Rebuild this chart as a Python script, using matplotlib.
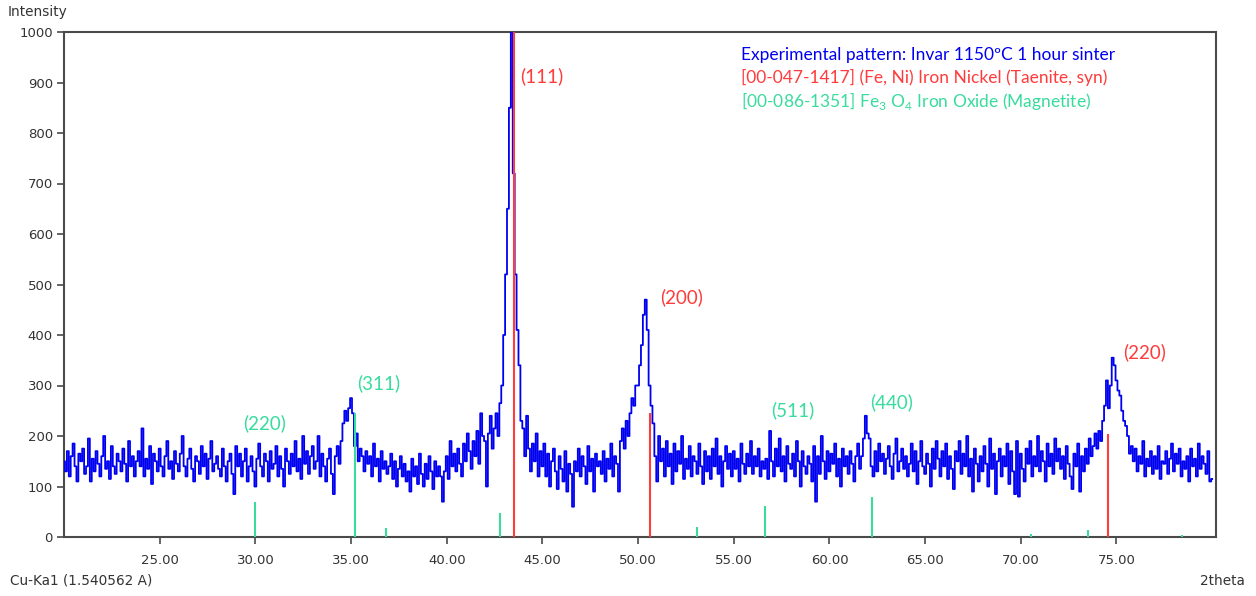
import numpy as np
import matplotlib
matplotlib.use("Agg")
import matplotlib.pyplot as plt

# ---------------- data ----------------
two_theta_start = 20.0
two_theta_step = 0.1
intensity = [
    # 20
    150, 130, 170, 120, 160, 185, 140, 110, 165, 150,
    # 21
    175, 125, 140, 195, 110, 155, 130, 170, 145, 120,
    # 22
    160, 200, 135, 150, 115, 180, 140, 125, 165, 150,
    # 23
    130, 175, 145, 110, 190, 140, 160, 120, 150, 170,
    # 24
    140, 215, 120, 155, 135, 180, 105, 165, 150, 130,
    # 25
    175, 140, 120, 160, 190, 135, 150, 115, 170, 145,
    # 26
    130, 165, 200, 140, 120, 155, 175, 135, 110, 160,
    # 27
    150, 125, 180, 140, 165, 115, 155, 190, 130, 145,
    # 28
    160, 135, 120, 175, 140, 110, 150, 165, 125, 85,
    # 29
    180, 140, 165, 120, 150, 175, 110, 140, 160, 130,
    # 30
    100, 155, 185, 140, 120, 165, 150, 110, 170, 135,
    # 31
    145, 180, 120, 160, 135, 100, 175, 150, 125, 165,
    # 32
    140, 190, 130, 155, 115, 200, 145, 170, 125, 160,
    # 33
    180, 135, 150, 200, 120, 165, 140, 110, 155, 175,
    # 34
    125, 85, 160, 180, 145, 190, 225, 250, 230, 255,
    # 35
    275, 245, 180, 205, 150, 175, 160, 130, 170, 145,
    # 36
    160, 120, 185, 140, 155, 110, 170, 135, 150, 125,
    # 37
    140, 165, 115, 150, 100, 135, 160, 120, 145, 110,
    # 38
    130, 90, 155, 120, 140, 105, 165, 125, 100, 145,
    # 39
    115, 160, 130, 95, 150, 120, 140, 120, 70, 130,
    # 40
    160, 115, 190, 140, 165, 130, 175, 145, 120, 185,
    # 41
    150, 205, 170, 135, 190, 160, 210, 145, 245, 200,
    # 42
    190, 100, 205, 240, 175, 215, 245, 200, 265, 300,
    # 43
    400, 520, 650, 850, 1050, 720, 520, 410, 340, 230,
    # 44
    215, 160, 240, 175, 130, 185, 150, 205, 120, 170,
    # 45
    140, 185, 120, 165, 100, 150, 175, 130, 95, 160,
    # 46
    135, 110, 170, 90, 145, 125, 60, 150, 130, 175,
    # 47
    120, 160, 140, 105, 180, 130, 155, 90, 165, 140,
    # 48
    150, 125, 170, 110, 155, 135, 185, 120, 160, 145,
    # 49
    90, 190, 215, 175, 230, 200, 245, 275, 260, 300,
    # 50
    300, 340, 380, 440, 470, 410, 300, 260, 225, 160,
    # 51
    110, 200, 150, 175, 120, 190, 140, 165, 105, 185,
    # 52
    130, 170, 145, 200, 115, 155, 135, 180, 120, 160,
    # 53
    150, 125, 185, 140, 105, 170, 130, 160, 115, 175,
    # 54
    140, 195, 125, 160, 100, 150, 180, 135, 165, 120,
    # 55
    170, 135, 155, 110, 185, 145, 125, 165, 140, 190,
    # 56
    125, 160, 140, 175, 120, 150, 135, 155, 115, 210,
    # 57
    150, 120, 175, 140, 195, 130, 160, 110, 180, 145,
    # 58
    135, 165, 120, 190, 150, 100, 170, 140, 125, 160,
    # 59
    145, 110, 180, 70, 160, 125, 200, 150, 115, 170,
    # 60
    130, 165, 145, 185, 120, 155, 100, 175, 140, 160,
    # 61
    125, 170, 145, 110, 160, 185, 135, 160, 195, 240,
    # 62
    205, 195, 140, 120, 170, 130, 185, 150, 165, 125,
    # 63
    155, 180, 140, 115, 165, 195, 130, 150, 175, 135,
    # 64
    160, 120, 145, 185, 130, 170, 105, 150, 190, 140,
    # 65
    125, 165, 145, 100, 175, 135, 190, 155, 120, 170,
    # 66
    140, 185, 115, 160, 135, 95, 170, 150, 190, 125,
    # 67
    165, 140, 200, 120, 155, 90, 175, 145, 110, 160,
    # 68
    130, 180, 145, 100, 195, 135, 165, 85, 150, 175,
    # 69
    120, 160, 140, 185, 105, 170, 130, 85, 190, 80,
    # 70
    165, 135, 110, 175, 145, 190, 120, 160, 140, 200,
    # 71
    130, 170, 150, 110, 185, 140, 165, 125, 195, 150,
    # 72
    175, 135, 160, 115, 180, 145, 120, 95, 165, 140,
    # 73
    185, 90, 160, 130, 175, 145, 195, 160, 180, 205,
    # 74
    175, 210, 190, 230, 260, 310, 255, 300, 355, 340,
    # 75
    310, 290, 280, 250, 230, 220, 200, 165, 180, 150,
    # 76
    175, 130, 160, 145, 190, 120, 155, 140, 170, 125,
    # 77
    160, 135, 180, 115, 150, 145, 170, 125, 155, 185,
    # 78
    130, 165, 145, 175, 120, 150, 135, 160, 110, 175,
    # 79
    140, 155, 120, 185, 135, 160, 145, 125, 170, 110,
    # 80
    115,
]

taenite_pos = [43.5, 50.6, 74.55]
taenite_int = [1000, 245, 204]
taenite_hkl = ["(111)", "(200)", "(220)"]
taenite_label_xy = [(43.85, 913), (51.15, 475), (75.37, 366)]

magnetite_pos = [30.0, 35.2, 36.85, 42.8, 53.1, 56.65, 62.2, 70.55, 73.5, 78.4]
magnetite_int = [70, 245, 17, 48, 20, 62, 80, 6, 14, 3]
magnetite_hkl = ["(220)", "(311)", "(511)", "(440)"]
magnetite_label_xy = [(29.35, 226), (35.31, 305), (56.94, 251), (62.15, 267)]

x_ticks = [25, 30, 35, 40, 45, 50, 55, 60, 65, 70, 75]
y_ticks = [0, 100, 200, 300, 400, 500, 600, 700, 800, 900, 1000]

legend_lines = [
    "Experimental pattern: Invar 1150\u00baC 1 hour sinter",
    "[00-047-1417] (Fe, Ni) Iron Nickel (Taenite, syn)",
    "[00-086-1351] Fe$_\\mathregular{3}$ O$_\\mathregular{4}$ Iron Oxide (Magnetite)",
]

# ---------------- style ----------------
BLUE = "#0000f0"
RED = "#ff3b3b"
GREEN = "#38dc9c"
AXC = "#4a4a4a"
TXT = "#333333"

plt.rcParams["mathtext.fontset"] = "custom"
plt.rcParams["mathtext.rm"] = "Lato"

W, H = 1256, 596
fig = plt.figure(figsize=(W / 100, H / 100), dpi=100)
L, R, T, B = 64, 1216, 32, 537
ax = fig.add_axes([L / W, 1 - B / H, (R - L) / W, (B - T) / H])

x = two_theta_start + two_theta_step * np.arange(len(intensity))
y = np.array(intensity, dtype=float)

ax.plot(x, y, color=BLUE, lw=1.3, drawstyle="steps-mid", zorder=3)

ax.vlines(magnetite_pos, 0, magnetite_int, color=GREEN, lw=1.5, zorder=4)
ax.vlines(taenite_pos, 0, taenite_int, color=RED, lw=1.5, zorder=4)

lab_font = dict(family="Lato", fontsize=13.5)
for (lx, ly), t in zip(taenite_label_xy, taenite_hkl):
    ax.text(lx, ly, t, color=RED, ha="left", va="center", **lab_font)
for (lx, ly), t in zip(magnetite_label_xy, magnetite_hkl):
    ax.text(lx, ly, t, color=GREEN, ha="left", va="center", **lab_font)

ax.set_xlim(20, 80.2)
ax.set_ylim(0, 1000)
ax.set_xticks(x_ticks)
ax.set_xticklabels([f"{v:.2f}" for v in x_ticks])
ax.set_yticks(y_ticks)
ax.set_yticklabels([str(v) for v in y_ticks])
ax.tick_params(axis="both", direction="out", length=5, width=1.2, color=AXC,
               labelsize=9.5, labelcolor=TXT, pad=3)
ax.tick_params(axis="x", pad=7)
for s in ax.spines.values():
    s.set_color(AXC)
    s.set_linewidth(1.5)

# legend-like texts
legend_colors = [BLUE, RED, GREEN]
legend_y = [55, 77, 101]
for t, c, py in zip(legend_lines, legend_colors, legend_y):
    fig.text(741 / W, 1 - py / H, t, color=c, ha="left", va="center",
             family="Lato", fontsize=12.5)

fig.text(8 / W, 1 - 12 / H, "Intensity", ha="left", va="center",
         fontsize=9.8, color=TXT)
fig.text(10 / W, 1 - 581 / H, "Cu-Ka1 (1.540562 A)", ha="left", va="center",
         fontsize=9.8, color=TXT)
fig.text(1245 / W, 1 - 581 / H, "2theta", ha="right", va="center",
         fontsize=9.8, color=TXT)

fig.savefig("out.png", dpi=100, facecolor="white")
